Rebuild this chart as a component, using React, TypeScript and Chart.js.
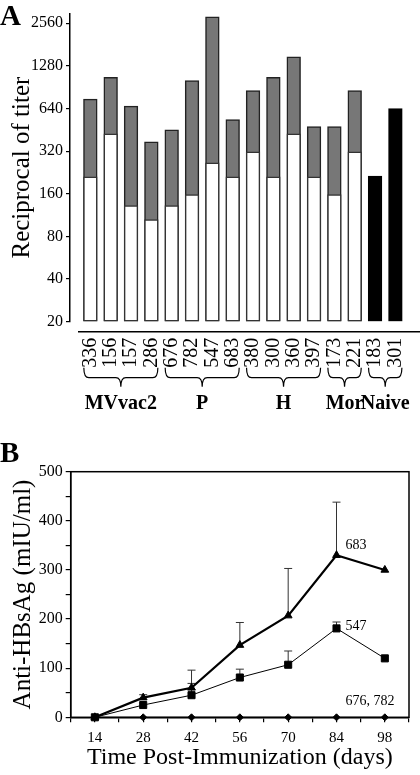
import React, { useEffect, useRef } from "react";
import { Chart, registerables } from "chart.js";

Chart.register(...registerables);

const FONT = "'Liberation Serif', 'Times New Roman', serif";

// ---------- Panel A data ----------
const sampleIds = ["336", "156", "157", "286", "676", "782", "547", "683", "380", "300", "360", "397", "173", "221", "183", "301"];
const preTiters = [211, 424, 132, 105, 132, 158, 265, 211, 317, 211, 424, 211, 158, 317];
const postTiters = [745, 1064, 665, 372, 453, 1008, 2838, 535, 857, 1064, 1482, 478, 478, 857];
const naiveTiters = [213, 640];
const titerTicks = [20, 40, 80, 160, 320, 640, 1280, 2560];
const groupNames = ["MVvac2", "P", "H", "Mor", "Naive"];
const groupSizes = [4, 4, 4, 2, 2];

// ---------- Panel B data ----------
const days = [14, 28, 42, 56, 70, 84, 98];
const anti683 = [0, 40, 60, 147, 207, 330, 300];
const err683 = [0, 6, 36, 46, 96, 108, 0];
const anti547 = [0, 25, 45, 81, 107, 181, 120];
const err547 = [0, 0, 24, 17, 28, 13, 0];
const anti676782 = [0, 0, 0, 0, 0, 0, 0];
const seriesNames = ["683", "547", "676, 782"];
const labelDay = 84;

Chart.defaults.font.family = FONT;
Chart.defaults.color = "#000";

const panelAPlugin = {
  id: "panelA",
  afterDraw(chart: any) {
    const { ctx, chartArea, scales } = chart;
    const x = scales.x;
    ctx.save();
    ctx.fillStyle = "#000";
    ctx.strokeStyle = "#000";
    ctx.font = `bold 29px ${FONT}`;
    ctx.textAlign = "left";
    ctx.textBaseline = "alphabetic";
    ctx.fillText("A", 0, 25);

    // separate horizontal axis line below bars
    const lineY = chartArea.bottom + 10;
    ctx.lineWidth = 1.5;
    ctx.beginPath();
    ctx.moveTo(chartArea.left + 8, lineY);
    ctx.lineTo(chartArea.right, lineY);
    ctx.stroke();

    // braces + group names
    let start = 1;
    groupSizes.forEach((n, g) => {
      const x1 = x.getPixelForValue(start) - 6.5;
      const x2 = x.getPixelForValue(start + n - 1) + 6.5;
      const xm = (x1 + x2) / 2;
      const yTop = chartArea.bottom + 46;
      const yMid = yTop + 10;
      const yTip = yTop + 19;
      const r = 5;
      ctx.lineWidth = 1.2;
      ctx.beginPath();
      ctx.moveTo(x1, yTop);
      ctx.quadraticCurveTo(x1, yMid, x1 + r, yMid);
      ctx.lineTo(xm - r, yMid);
      ctx.quadraticCurveTo(xm, yMid, xm, yTip);
      ctx.quadraticCurveTo(xm, yMid, xm + r, yMid);
      ctx.lineTo(x2 - r, yMid);
      ctx.quadraticCurveTo(x2, yMid, x2, yTop);
      ctx.stroke();
      ctx.font = `bold 20px ${FONT}`;
      ctx.textAlign = "center";
      ctx.fillText(groupNames[g], xm, chartArea.bottom + 87);
      start += n;
    });
    ctx.restore();
  },
};

const panelBPlugin = {
  id: "panelB",
  beforeDatasetsDraw(chart: any) {
    const { ctx, scales } = chart;
    const x = scales.x;
    const y = scales.y;
    ctx.save();
    ctx.strokeStyle = "#333";
    ctx.lineWidth = 1;
    const pairs: [number[], number[]][] = [
      [anti683, err683],
      [anti547, err547],
    ];
    pairs.forEach(([vals, errs]) => {
      vals.forEach((v, i) => {
        if (!errs[i]) return;
        const px = x.getPixelForValue(days[i]);
        const y0 = y.getPixelForValue(v);
        const y1 = y.getPixelForValue(v + errs[i]);
        ctx.beginPath();
        ctx.moveTo(px, y0);
        ctx.lineTo(px, y1);
        ctx.moveTo(px - 4, y1);
        ctx.lineTo(px + 4, y1);
        ctx.stroke();
      });
    });
    ctx.restore();
  },
  afterDraw(chart: any) {
    const { ctx, chartArea, scales } = chart;
    const x = scales.x;
    const y = scales.y;
    ctx.save();
    ctx.strokeStyle = "#000";
    ctx.lineWidth = 1.5;
    ctx.strokeRect(chartArea.left, chartArea.top, chartArea.right - chartArea.left, chartArea.bottom - chartArea.top);
    ctx.fillStyle = "#000";
    ctx.font = `bold 29px ${FONT}`;
    ctx.textAlign = "left";
    ctx.textBaseline = "alphabetic";
    ctx.fillText("B", 0, 46.7);

    const idx = days.indexOf(labelDay);
    const lx = x.getPixelForValue(labelDay) + 9;
    ctx.font = `14px ${FONT}`;
    ctx.fillText(seriesNames[0], lx, y.getPixelForValue(anti683[idx]) - 6);
    ctx.fillText(seriesNames[1], lx, y.getPixelForValue(anti547[idx]) + 2);
    ctx.fillText(seriesNames[2], lx, y.getPixelForValue(anti676782[idx]) - 12);
    ctx.restore();
  },
};

function makeConfigA(): any {
  const nImm = postTiters.length;
  return {
    type: "bar",
    data: {
      datasets: [
        {
          label: "pre",
          data: preTiters.map((v, i) => ({ x: i + 1, y: v })),
          backgroundColor: "#ffffff",
          borderColor: "#333333",
          borderWidth: 1.5,
          order: 0,
        },
        {
          label: "post",
          data: postTiters.map((v, i) => ({ x: i + 1, y: v })),
          backgroundColor: "#777777",
          borderColor: "#222222",
          borderWidth: 1.5,
          order: 1,
        },
        {
          label: "naive",
          data: naiveTiters.map((v, i) => ({ x: nImm + i + 1, y: v })),
          backgroundColor: "#000000",
          borderColor: "#000000",
          borderWidth: 1.5,
          order: 1,
        },
      ],
    },
    options: {
      responsive: false,
      animation: false,
      devicePixelRatio: 1,
      layout: { padding: { top: 13.5, right: 0, left: 0, bottom: 0 } },
      datasets: {
        bar: { barThickness: 13.7, grouped: false, borderSkipped: false, base: 20 },
      },
      plugins: { legend: { display: false }, tooltip: { enabled: false } },
      scales: {
        x: {
          type: "linear",
          min: 0,
          max: 17.21,
          offset: false,
          grid: { display: false, offset: false },
          border: { display: false },
          afterBuildTicks: (s: any) => {
            s.ticks = sampleIds.map((_, i) => ({ value: i + 1 }));
          },
          afterFit: (s: any) => {
            s.height = 93.3;
            s.paddingLeft = 0;
            s.paddingRight = 0;
          },
          ticks: {
            autoSkip: false,
            minRotation: 90,
            maxRotation: 90,
            padding: 8,
            color: "#000",
            font: { family: FONT, size: 20 },
            callback: (_v: any, i: number) => sampleIds[i] ?? "",
          },
        },
        y: {
          type: "logarithmic",
          min: 20,
          max: 3000,
          afterBuildTicks: (s: any) => {
            s.ticks = titerTicks.map((v) => ({ value: v }));
          },
          afterFit: (s: any) => {
            s.width = 70;
          },
          ticks: {
            autoSkip: false,
            padding: 3,
            color: "#000",
            font: { family: FONT, size: 16 },
            callback: (v: any) => String(v),
          },
          grid: { drawOnChartArea: false, drawTicks: true, tickLength: 4, color: "#000", lineWidth: 1.2 },
          border: { display: true, color: "#000", width: 1.5 },
          title: {
            display: true,
            text: "Reciprocal of titer",
            color: "#000",
            font: { family: FONT, size: 25 },
            padding: { top: 7, bottom: 0 },
          },
        },
      },
    },
    plugins: [panelAPlugin],
  };
}

function makeConfigB(): any {
  const toXY = (arr: number[]) => arr.map((v, i) => ({ x: days[i], y: v }));
  return {
    type: "line",
    data: {
      datasets: [
        {
          label: seriesNames[0],
          data: toXY(anti683),
          borderColor: "#000",
          borderWidth: 2.2,
          pointStyle: "triangle",
          pointRadius: 4.5,
          pointBackgroundColor: "#000",
          pointBorderColor: "#000",
          pointBorderWidth: 1,
          tension: 0,
          clip: false,
          order: 1,
        },
        {
          label: seriesNames[1],
          data: toXY(anti547),
          borderColor: "#000",
          borderWidth: 1,
          pointStyle: "rect",
          pointRadius: 5,
          pointBackgroundColor: "#000",
          pointBorderColor: "#000",
          pointBorderWidth: 1,
          tension: 0,
          clip: false,
          order: 0,
        },
        {
          label: seriesNames[2],
          data: toXY(anti676782),
          borderColor: "#000",
          borderWidth: 1,
          pointStyle: "rectRot",
          pointRadius: 3.5,
          pointBackgroundColor: "#000",
          pointBorderColor: "#000",
          pointBorderWidth: 1,
          tension: 0,
          clip: false,
          order: 2,
        },
      ],
    },
    options: {
      responsive: false,
      animation: false,
      devicePixelRatio: 1,
      layout: { padding: { top: 56.7, right: 11, left: 0, bottom: 0 } },
      plugins: { legend: { display: false }, tooltip: { enabled: false } },
      scales: {
        x: {
          type: "linear",
          min: 7,
          max: 105,
          afterFit: (s: any) => {
            s.height = 57.7;
          },
          ticks: {
            stepSize: 7,
            autoSkip: false,
            maxRotation: 0,
            padding: 7,
            color: "#000",
            font: { family: FONT, size: 15 },
            callback: (v: any) => (v % 14 === 0 ? String(v) : ""),
          },
          grid: { drawOnChartArea: false, drawTicks: true, tickLength: 5, color: "#000", lineWidth: 1.2 },
          border: { display: true, color: "#000", width: 1.5 },
          title: {
            display: true,
            text: "Time Post-Immunization (days)",
            color: "#000",
            font: { family: FONT, size: 24 },
            padding: { top: 0, bottom: 3 },
          },
        },
        y: {
          type: "linear",
          min: 0,
          max: 500,
          afterFit: (s: any) => {
            s.width = 70.7;
          },
          ticks: {
            stepSize: 50,
            autoSkip: false,
            padding: 3,
            color: "#000",
            font: { family: FONT, size: 16 },
            callback: (v: any) => (v % 100 === 0 ? String(v) : ""),
          },
          grid: { drawOnChartArea: false, drawTicks: true, tickLength: 5, color: "#000", lineWidth: 1.2 },
          border: { display: true, color: "#000", width: 1.5 },
          title: {
            display: true,
            text: "Anti-HBsAg (mIU/ml)",
            color: "#000",
            font: { family: FONT, size: 25 },
            padding: { top: 8, bottom: 0 },
          },
        },
      },
    },
    plugins: [panelBPlugin],
  };
}

export default function App() {
  const refA = useRef<HTMLCanvasElement>(null);
  const refB = useRef<HTMLCanvasElement>(null);
  useEffect(() => {
    const a = new Chart(refA.current as HTMLCanvasElement, makeConfigA());
    const b = new Chart(refB.current as HTMLCanvasElement, makeConfigB());
    return () => {
      a.destroy();
      b.destroy();
    };
  }, []);
  return (
    <div style={{ position: "absolute", left: 0, top: 0, width: 420, height: 775, background: "#fff" }}>
      <canvas
        ref={refA}
        width={420}
        height={415}
        style={{ position: "absolute", left: 0, top: 0, width: 420, height: 415 }}
      />
      <canvas
        ref={refB}
        width={420}
        height={360}
        style={{ position: "absolute", left: 0, top: 415, width: 420, height: 360 }}
      />
    </div>
  );
}
